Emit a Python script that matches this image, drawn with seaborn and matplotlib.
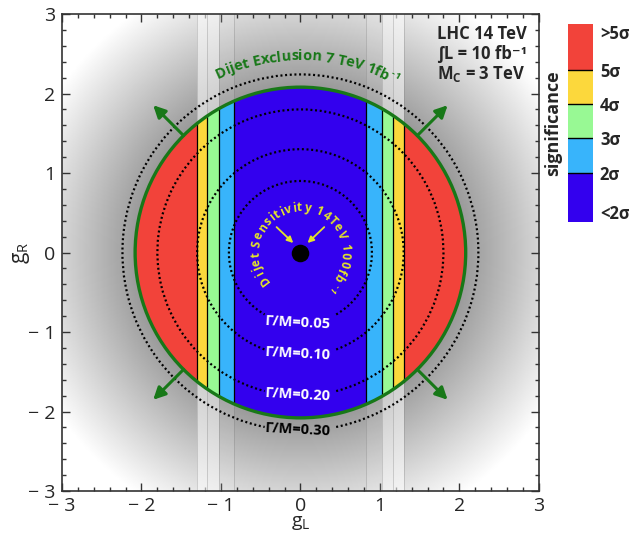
import numpy as np
import matplotlib
matplotlib.use('Agg')
import matplotlib.pyplot as plt
import seaborn as sns
from matplotlib.patches import Circle, Rectangle, Arc
from matplotlib.font_manager import FontProperties
from matplotlib.textpath import TextToPath


# significance bands, edges in |g_L|
band_edges = [0.0, 0.83, 1.03, 1.17, 1.30, 2.08]
band_colors = ['#3300ee', '#38b4fb', '#98f994', '#fcd83c', '#f2433a']
stripe_alpha = [0.0, 0.12, 0.5, 0.55, 0.0]

excl_radius = 2.08   # dijet exclusion 7 TeV 1fb-1

# width contours
width_radii = [0.90, 1.30, 1.80, 2.24]
width_labels = ['Γ/M=0.05', 'Γ/M=0.10', 'Γ/M=0.20', 'Γ/M=0.30']
width_label_y = [-0.88, -1.27, -1.79, -2.23]
width_label_colors = ['white', 'white', 'white', 'black']

arrow_angles = [45, 135, 225, 315]

cb_labels = ['<2σ', '2σ', '3σ', '4σ', '5σ', '>5σ']
cb_heights = [1.45, 1.0, 1.0, 1.0, 1.35]

ticks = [-3, -2, -1, 0, 1, 2, 3]
tick_labels = ['− 3', '− 2', '− 1', '0', '1', '2', '3']

GREEN = '#187818'
YELLOW = '#e4e42a'
FONT = ['Open Sans', 'DejaVu Sans']

sns.set_theme(style='ticks')
plt.rcParams['font.family'] = FONT
plt.rcParams['mathtext.fontset'] = 'custom'
plt.rcParams['mathtext.rm'] = 'Open Sans'

fig = plt.figure(figsize=(6.29, 5.35), dpi=100)
ax = fig.add_axes([0.0986, 0.0822, 0.758, 0.8916])

# grey background glow
xx, yy = np.meshgrid(np.linspace(-3, 3, 400), np.linspace(-3, 3, 400))
rr = np.hypot(xx, yy)
glow = np.clip(0.62 + 0.25 * (rr - 2.15), 0.45, 1.0)
ax.imshow(glow, extent=[-3, 3, -3, 3], origin='lower', cmap='gray', vmin=0, vmax=1,
          zorder=0, interpolation='bilinear')

# light vertical stripes
for i in range(len(band_colors)):
    lo, hi = band_edges[i], band_edges[i + 1]
    if stripe_alpha[i] > 0:
        for s in (-1, 1):
            ax.axvspan(min(s * lo, s * hi), max(s * lo, s * hi), color='white',
                       alpha=stripe_alpha[i], lw=0, zorder=1)
for e in band_edges[1:-1]:
    for s in (-1, 1):
        ax.axvline(s * e, color='#777777', lw=0.6, alpha=0.35, zorder=1)

# coloured bands inside the exclusion circle
clip = Circle((0, 0), excl_radius, fc='none', ec='none')
ax.add_patch(clip)
for i, c in enumerate(band_colors):
    lo, hi = band_edges[i], band_edges[i + 1]
    for s in (-1, 1):
        x0 = min(s * lo, s * hi)
        rect = Rectangle((x0, -excl_radius), hi - lo, 2 * excl_radius, fc=c, ec='none', zorder=2)
        ax.add_patch(rect)
        rect.set_clip_path(clip)
for e in band_edges[1:-1]:
    h = np.sqrt(excl_radius ** 2 - e ** 2)
    for s in (-1, 1):
        ax.plot([s * e, s * e], [-h, h], color='black', lw=0.9, zorder=2.5)

ax.add_patch(Circle((0, 0), excl_radius, fill=False, ec=GREEN, lw=2.4, zorder=3))

# dotted width circles, with a gap for the label
for r, lab, ly, lc in zip(width_radii, width_labels, width_label_y, width_label_colors):
    gap = np.degrees(np.arcsin(min(0.45 / r, 1)))
    ax.add_patch(Arc((0, 0), 2 * r, 2 * r, theta1=270 + gap, theta2=270 - gap + 360,
                     ec='black', lw=1.6, ls=(0, (0.9, 1.2)), zorder=4))
    ax.text(-0.03, ly, lab, color=lc, fontsize=10.5, fontweight='bold', ha='center',
            va='center', rotation=-3, zorder=5)

# green arrows
for a in arrow_angles:
    t = np.radians(a)
    ax.annotate('', xy=(2.62 * np.cos(t), 2.62 * np.sin(t)),
                xytext=(excl_radius * np.cos(t), excl_radius * np.sin(t)),
                arrowprops=dict(arrowstyle='-|>', color=GREEN, lw=2.2, mutation_scale=18,
                                shrinkA=0, shrinkB=0), zorder=5)

# centre point and yellow arrows
sns.scatterplot(x=[0], y=[0], s=160, color='black', ax=ax, zorder=6, linewidth=0)
for sx in (-1, 1):
    ax.annotate('', xy=(sx * 0.09, 0.12), xytext=(sx * 0.30, 0.32),
                arrowprops=dict(arrowstyle='-|>', color=YELLOW, lw=1.3, mutation_scale=9,
                                shrinkA=0, shrinkB=0), zorder=6)

# text along arcs
t2p = TextToPath()
DATA_PER_PT = 6 / 477 * 100 / 72


def centres(s, prop):
    out = []
    for i in range(len(s)):
        right = t2p.get_text_width_height_descent(s[:i + 1], prop, ismath=False)[0]
        own = t2p.get_text_width_height_descent(s[i], prop, ismath=False)[0]
        out.append(right - own / 2)
    total = t2p.get_text_width_height_descent(s, prop, ismath=False)[0]
    return out, total


def arc_text(s, sup, radius, centre_deg, size, color, weight='bold', spread=1.0):
    prop = FontProperties(family=FONT, size=size, weight=weight)
    sprop = FontProperties(family=FONT, size=size * 0.65, weight=weight)
    pos, tot = centres(s, prop)
    spos, stot = centres(sup, sprop)
    gap = size * 0.08
    total = (tot + gap + stot) * spread
    start = np.radians(centre_deg) + total / 2 * DATA_PER_PT / radius
    items = [(ch, p, radius, prop) for ch, p in zip(s, pos)]
    items += [(ch, tot + gap + p, radius + size * 0.4 * DATA_PER_PT, sprop) for ch, p in zip(sup, spos)]
    for ch, p, r, pr in items:
        if ch == ' ':
            continue
        ang = start - p * spread * DATA_PER_PT / radius
        ax.text(r * np.cos(ang), r * np.sin(ang), ch, fontproperties=pr, color=color,
                rotation=np.degrees(ang) - 90, rotation_mode='anchor', ha='center',
                va='baseline', zorder=6)


arc_text('Dijet Exclusion 7 TeV 1fb', '-1', 2.42, 88, 10.5, GREEN)
arc_text('Dijet Sensitivity 14TeV 100fb', '-1', 0.52, 86, 8.5, YELLOW, spread=1.15)

# info box
ax.text(1.72, 2.75, 'LHC 14 TeV', fontsize=12, fontweight='bold', va='center', zorder=6)
ax.text(1.72, 2.50, '∫L = 10 fb⁻¹', fontsize=12, fontweight='bold', va='center', zorder=6)
ax.text(1.72, 2.25, r'M$_\mathregular{C}$ = 3 TeV', fontsize=12, fontweight='bold',
        va='center', zorder=6)

ax.set_xlim(-3, 3)
ax.set_ylim(-3, 3)
ax.set_aspect('auto')
ax.set_xticks(ticks)
ax.set_yticks(ticks)
ax.set_xticklabels(tick_labels)
ax.set_yticklabels(tick_labels)
ax.set_xticks(np.arange(-3, 3.01, 0.2), minor=True)
ax.set_yticks(np.arange(-3, 3.01, 0.2), minor=True)
ax.tick_params(which='both', direction='in', top=True, right=True, labelsize=14,
               width=1, color='#333333')
ax.tick_params(which='major', length=6)
ax.tick_params(which='minor', length=3)
ax.tick_params(axis='x', pad=4)
ax.tick_params(axis='y', pad=5)
for sp in ax.spines.values():
    sp.set_color('#333333')
    sp.set_linewidth(1.2)
    sp.set_zorder(10)
ax.set_xlabel(r'$\mathregular{g_L}$', fontsize=14, va='center')
ax.xaxis.set_label_coords(0.5, -0.068)
ax.set_ylabel(r'$\mathregular{g_R}$', fontsize=15, va='center')
ax.yaxis.set_label_coords(-0.085, 0.5)

# colour legend
cb = fig.add_axes([0.903, 0.585, 0.0397, 0.370])
bottoms = np.concatenate([[0], np.cumsum(cb_heights)[:-1]])
cb.bar(0, cb_heights, bottom=bottoms, width=1, color=band_colors, edgecolor='none')
for b in bottoms[1:]:
    cb.axhline(b, color='black', lw=1)
top = sum(cb_heights)
cb.set_xlim(-0.5, 0.5)
cb.set_ylim(0, top)
cb.set_xticks([])
cb.yaxis.tick_right()
cb.set_yticks([0.3] + list(bottoms[1:]) + [top - 0.23])
cb.set_yticklabels(cb_labels)
cb.tick_params(axis='y', length=0, labelsize=12, pad=5)
for lab in cb.get_yticklabels():
    lab.set_fontweight('bold')
for sp in cb.spines.values():
    sp.set_visible(False)
cb.yaxis.set_label_position('left')
cb.set_ylabel('significance', fontsize=13, fontweight='bold', labelpad=4)

fig.savefig('out.png', dpi=100)
